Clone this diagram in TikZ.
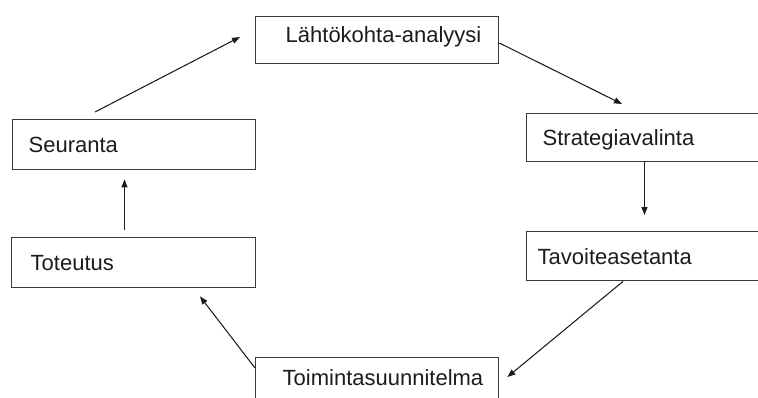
\documentclass[tikz,border=0pt]{standalone}
\usepackage{fontspec}
\setmainfont{Liberation Sans}
\usetikzlibrary{arrows.meta,calc}
\definecolor{ink}{HTML}{1C1C1C}
\definecolor{boxline}{HTML}{3A3A3A}
\begin{document}
\begin{tikzpicture}[x=1pt,y=-1pt,
  % box: #1 = left padding, #2 = text width, #3 = height
  stage/.style n args={3}{draw=boxline, line width=1.4pt, rectangle, fill=white,
    anchor=north west, inner ysep=0pt, inner xsep=#1, text width=#2,
    minimum height=#3, align=left, text=ink,
    font=\fontsize{22}{26}\selectfont, text height=15.8pt, text depth=0pt},
  flow/.style={draw=ink, line width=1.05pt, -{Triangle[length=8pt,width=6pt]}}]
\useasboundingbox (0,0) rectangle (758,397);
\clip (0,0) rectangle (758,397);

% the six stages of the cycle
\node[stage={30pt}{183pt}{47pt}, text depth=12pt] (lah) at (255,16) {\mbox{Lähtökohta-analyysi}};
\node[stage={16pt}{212pt}{48pt}] (strat) at (526,113) {\mbox{Strategiavalinta}};
\node[stage={11pt}{222pt}{49pt}] (tav) at (526,231) {\mbox{Tavoiteasetanta}};
\node[stage={27pt}{189pt}{52pt}, text depth=12pt] (toim) at (255,357) {\mbox{Toimintasuunnitelma}};
\node[stage={19pt}{206pt}{50pt}] (tot) at (11,237) {\mbox{Toteutus}};
\node[stage={16pt}{211pt}{50pt}] (seur) at (12,119) {\mbox{Seuranta}};

% connectors, running clockwise
\draw[flow] ($(seur.north west)+(83,-7)$) -- ($(lah.north west)+(-15,21)$);
\draw[flow] ($(lah.north east)+(0,27)$) -- ($(strat.north west)+(96,-9)$);
\draw[flow] ($(strat.south west)+(118.5,0)$) -- ($(tav.north west)+(118.5,-16)$);
\draw[flow] ($(tav.south west)+(97,0)$) -- ($(toim.north east)+(8,20)$);
\draw[flow] ($(toim.north west)+(0,11)$) -- ($(tot.south west)+(189,8)$);
\draw[flow] ($(tot.north west)+(113.5,-7)$) -- ($(seur.south west)+(112.5,9)$);
\end{tikzpicture}
\end{document}
